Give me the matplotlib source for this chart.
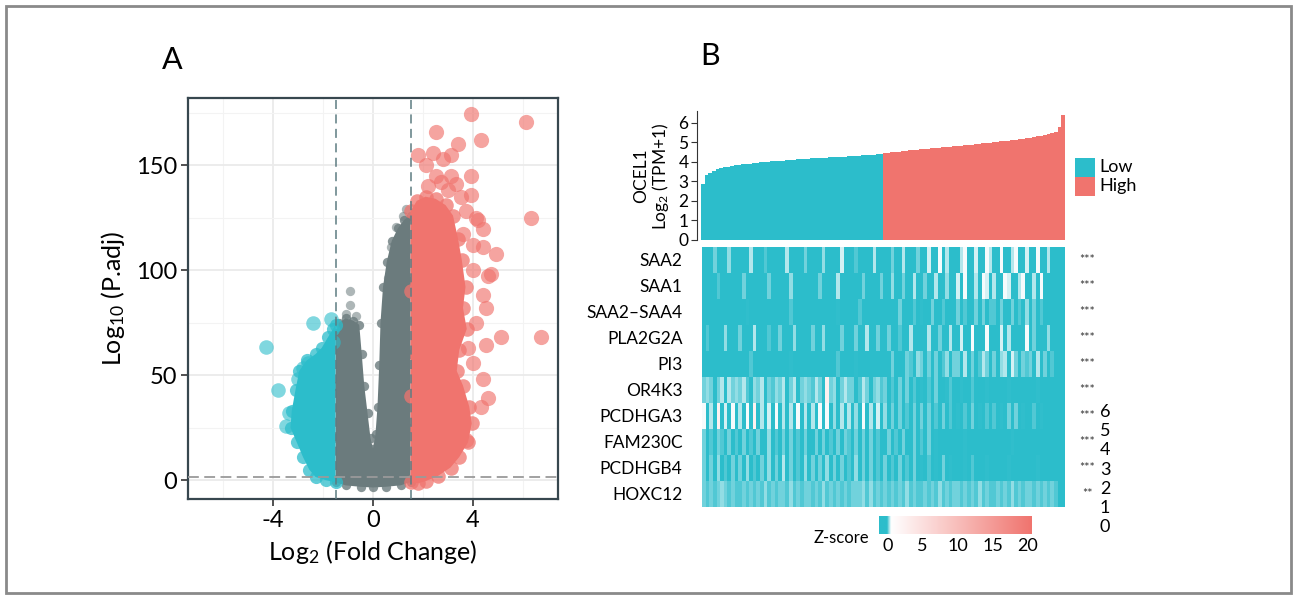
import numpy as np
import matplotlib
matplotlib.use("Agg")
import matplotlib.pyplot as plt
from matplotlib.colors import LinearSegmentedColormap, Normalize
from matplotlib.patches import Rectangle

plt.rcParams["font.family"] = ["Lato", "DejaVu Sans"]
plt.rcParams["mathtext.fontset"] = "custom"
plt.rcParams["mathtext.rm"] = "Lato"
plt.rcParams["mathtext.default"] = "regular"

TEAL = "#2CBDCB"
SALMON = "#F0746E"
GRAY = "#6B7B7D"

# ---- panel A: volcano (dense cores as outlines, plus single points) ----
GRAY_CORE_X = [-1.5, -1.5, -1.5, -1.5, -1.35, -1.1, -0.8, -0.55, -0.45, -0.35, -0.22, -0.1, 0.0,
               0.1, 0.18, 0.25, 0.3, 0.4, 0.55, 0.75, 1.0, 1.25, 1.5, 1.5, 1.5, 1.5, 1.5,
               1.1, 0.5, 0.0, -0.5, -1.1]
GRAY_CORE_Y = [-1, 20, 45, 70, 75, 77, 76, 74, 60, 45, 32, 20, 15,
               22, 35, 55, 75, 92, 104, 114, 120, 124, 126, 95, 60, 25, -1,
               -2.5, -3.2, -3.5, -3.2, -2.5]
BLUE_CORE_X = [-1.5, -1.9, -2.3, -2.55, -2.8, -3.05, -3.3, -3.25, -3.1, -2.95, -2.65, -2.3,
               -2.05, -1.8, -1.6, -1.5]
BLUE_CORE_Y = [-1, 0, 1.5, 5, 11, 18, 25, 33, 43, 52, 57, 60, 63, 68, 72, 74]
RED_CORE_X = [1.5, 1.5, 1.5, 1.5, 1.75, 2.1, 2.5, 2.9, 3.2, 3.4, 3.55, 3.7, 3.6, 3.75, 3.45,
              3.35, 3.6, 3.85, 3.95, 3.8, 3.45, 3.1, 2.6, 2.1, 1.8]
RED_CORE_Y = [-1, 40, 90, 128, 133, 135, 134, 131, 126, 115, 105, 92, 82, 72, 62,
              52, 45, 35, 27, 18, 11, 6, 2, -0.5, -1.5]

GRAY_PTS_X = [-0.92, -0.92, 1.2, 0.9, 0.7, 0.8, 0.6, 1.1, -1.1, -0.7, 1.3]
GRAY_PTS_Y = [90, 83.6, 126, 120.5, 111, 103, 96.5, 115.6, 79, 78, 129]
BLUE_PTS_X = [-4.3, -3.8, -2.4, -1.7, -2.8, -3.5, -3.35, -2.6, -3.0, -1.6]
BLUE_PTS_Y = [63.5, 43, 75, 76.5, 53.5, 26, 32, 56, 48, 66]
RED_PTS_X = [3.9, 6.1, 2.5, 4.3, 3.4, 1.8, 2.4, 3.1, 2.8, 2.1, 3.9, 3.3, 2.5, 3.1, 6.3, 2.7,
             4.1, 4.4, 4.9, 4.7, 4.0, 3.6, 3.9, 3.5, 4.2, 4.6, 4.4, 5.1, 6.7, 4.5, 4.6, 4.3,
             4.4, 4.0, 3.8, 4.1, 4.5, 3.7, 4.4, 4.0, 3.7, 2.2, 3.0]
RED_PTS_Y = [174.4, 170.6, 165.8, 162, 160, 155, 156, 155, 153, 150, 145, 141, 145, 145, 124.7, 142,
             125, 119.5, 107.5, 98, 112, 117, 136, 135, 124, 97, 111, 68, 68, 64.5, 39, 35,
             48, 56, 63, 75, 82, 19, 88, 100, 128, 140, 138]

# ---- panel B: sorted OCEL1 expression, 50 low + 50 high samples ----
BAR_VALUES = [2.85, 3.30, 3.45, 3.55, 3.62, 3.68, 3.72, 3.76, 3.79, 3.82,
              3.85, 3.87, 3.89, 3.91, 3.93, 3.95, 3.97, 3.99, 4.00, 4.02,
              4.03, 4.05, 4.06, 4.08, 4.09, 4.10, 4.12, 4.13, 4.14, 4.15,
              4.17, 4.18, 4.19, 4.20, 4.21, 4.23, 4.24, 4.25, 4.26, 4.27,
              4.28, 4.30, 4.31, 4.32, 4.33, 4.35, 4.36, 4.37, 4.39, 4.40,
              4.44, 4.46, 4.48, 4.50, 4.52, 4.54, 4.56, 4.58, 4.60, 4.62,
              4.64, 4.66, 4.68, 4.70, 4.72, 4.73, 4.75, 4.77, 4.78, 4.80,
              4.82, 4.83, 4.85, 4.87, 4.88, 4.90, 4.92, 4.94, 4.96, 4.98,
              5.00, 5.02, 5.04, 5.06, 5.08, 5.10, 5.12, 5.15, 5.18, 5.21,
              5.24, 5.27, 5.30, 5.33, 5.36, 5.40, 5.45, 5.52, 5.80, 6.40]
N_LOW = 50

GENES = ["SAA2", "SAA1", "SAA2\u2013SAA4", "PLA2G2A", "PI3", "OR4K3", "PCDHGA3", "FAM230C",
         "PCDHGB4", "HOXC12"]
STARS = ["***", "***", "***", "***", "***", "***", "***", "***", "***", "**"]

# one char per sample: 0 = low z (teal) ... 9 = white, a = pinkish
HEAT_ROWS = [
    "0003000500 0007000200 0006000030 0005000080 0020000600 0030070004 0080090600 0790080097 0090069008 0090070000",
    "0000200000 0300000040 0000500000 0030000600 0000400003 0050030060 0400700500 8090060980 7009800690 0709000000",
    "0000000000 0010000000 0000200000 0000000100 0002000000 0000300020 1003002000 3020040302 2030040205 0302000000",
    "0200005000 3000600020 0400050000 3005000040 0030070040 0400200600 0060030070 0800900090 0080700009 0300050000",
    "0000000000 0002000000 0000100000 0000000200 0010000000 0030004205 3040302503 4060302640 3057083042 4060302000",
    "3530460735 4620537042 5370460453 2640a35036 4302730452 3020403020 1020300120 0100200010 0000100000 0010000000",
    "9070a08090 7090a06080 9070609070 6090905070 7050906080 5030402040 3040203020 1020301020 2010303010 0201000000",
    "3020420302 0402030050 2030402030 0403020403 2030403020 0302030040 2030100000 0010000000 0000010000 0000000000",
    "4030502040 3050203050 4060402050 3040503040 2050304020 3020402030 1020103010 0010200010 0000100000 0010000000",
    "3242353242 2324242523 2342523243 2425242324 2343525242 3242425232 2423252423 3242325242 2423252324 3242324200",
]
Z_LEVELS = {"0": -1.0, "1": -0.03, "2": 0.03, "3": 0.09, "4": 0.15, "5": 0.21,
            "6": 0.27, "7": 0.33, "8": 0.39, "9": 0.45, "a": 2.5}

CBAR_TICKS = [0, 5, 10, 15, 20]
SIDE_NUMS = ["6", "5", "4", "3", "2", "1", "0"]

W, H = 1294, 599


def box(l, t, r, b):
    return [l / W, 1 - b / H, (r - l) / W, (b - t) / H]


fig = plt.figure(figsize=(W / 100, H / 100), dpi=100)

# ---------------- A ----------------
ax = fig.add_axes(box(188, 98, 558, 499))
ax.set_xlim(-7.4, 7.4)
ax.set_ylim(-9, 182)
ax.set_axisbelow(True)
ax.set_xticks([-4, 0, 4])
ax.set_xticklabels(["-4", "0", "4"])
ax.set_xticks([-6, -2, 2, 6], minor=True)
ax.set_yticks([0, 50, 100, 150])
ax.set_yticks([25, 75, 125, 175], minor=True)
ax.grid(which="major", color="#EBEBEB", lw=1.3)
ax.grid(which="minor", color="#F3F3F3", lw=0.8)
ax.tick_params(which="minor", length=0)
ax.tick_params(which="major", length=5, width=1.2, color="#333333", labelsize=17, pad=3)
for sp in ax.spines.values():
    sp.set_color("#37474F")
    sp.set_linewidth(1.6)

ax.fill(GRAY_CORE_X, GRAY_CORE_Y, color=GRAY, lw=0, zorder=2)
ax.scatter(GRAY_CORE_X, GRAY_CORE_Y, s=45, color=GRAY, alpha=0.8, lw=0, zorder=2)
ax.scatter(GRAY_PTS_X, GRAY_PTS_Y, s=45, color=GRAY, alpha=0.55, lw=0, zorder=2)
ax.fill(BLUE_CORE_X, BLUE_CORE_Y, color=TEAL, lw=0, zorder=3)
ax.scatter(BLUE_CORE_X, BLUE_CORE_Y, s=90, color=TEAL, alpha=0.75, lw=0, zorder=3)
ax.scatter(BLUE_PTS_X, BLUE_PTS_Y, s=110, color=TEAL, alpha=0.6, lw=0, zorder=3)
ax.fill(RED_CORE_X, RED_CORE_Y, color=SALMON, lw=0, zorder=4)
ax.scatter(RED_CORE_X, RED_CORE_Y, s=110, color=SALMON, alpha=0.75, lw=0, zorder=4)
ax.scatter(RED_PTS_X, RED_PTS_Y, s=120, color=SALMON, alpha=0.65, lw=0, zorder=4)

for xv in (-1.5, 1.5):
    ax.axvline(xv, color="#5E7C82", ls=(0, (5, 3)), lw=1.3, alpha=0.85, zorder=5)
ax.axhline(1.3, color="#9A9A9A", ls=(0, (6, 3)), lw=1.3, zorder=5)

ax.set_xlabel("Log$_2$ (Fold Change)", fontsize=18, labelpad=5)
ax.set_ylabel("Log$_{10}$ (P.adj)", fontsize=18, labelpad=6)

fig.text(172 / W, 1 - 60 / H, "A", fontsize=22, ha="center", va="center")
fig.text(710 / W, 1 - 56 / H, "B", fontsize=22, ha="center", va="center")

# ---------------- B: bars ----------------
ax2 = fig.add_axes(box(701, 111, 1065, 240))
n = len(BAR_VALUES)
bar_colors = [TEAL if i < N_LOW else SALMON for i in range(n)]
ax2.bar(range(n), BAR_VALUES, width=1.0, color=bar_colors, lw=0)
ax2.set_xlim(-0.5, n - 0.5)
ax2.set_ylim(0, 6.6)
ax2.set_yticks(range(7))
ax2.set_xticks([])
for side in ("top", "right", "bottom"):
    ax2.spines[side].set_visible(False)
ax2.spines["left"].set_color("#333333")
ax2.spines["left"].set_position(("outward", 3))
ax2.tick_params(axis="y", length=4, labelsize=12.5, pad=2, color="#333333")
fig.text(652 / W, 1 - 176 / H, "OCEL1\nLog$_2$ (TPM+1)", rotation=90, fontsize=12.5,
         ha="center", va="center", linespacing=1.1)

# legend
fig.add_artist(Rectangle((1075 / W, 1 - 177 / H), 20 / W, 19 / H, transform=fig.transFigure,
                         color=TEAL, lw=0))
fig.add_artist(Rectangle((1075 / W, 1 - 196 / H), 20 / W, 19 / H, transform=fig.transFigure,
                         color=SALMON, lw=0))
fig.text(1099 / W, 1 - 167 / H, "Low", fontsize=13, va="center")
fig.text(1099 / W, 1 - 186 / H, "High", fontsize=13, va="center")

# ---------------- B: heatmap ----------------
cmap = LinearSegmentedColormap.from_list(
    "zs", [(0.0, TEAL), (1.1 / 21.8, TEAL), (1.65 / 21.8, "#FFFFFF"), (1.0, SALMON)])
norm = Normalize(vmin=-1.2, vmax=20.6)

Z = np.array([[Z_LEVELS[c] for c in row.replace(" ", "")] for row in HEAT_ROWS])
ax3 = fig.add_axes(box(702, 247, 1064, 507))
ax3.imshow(Z, cmap=cmap, norm=norm, aspect="auto", interpolation="nearest")
ax3.set_yticks(range(len(GENES)))
ax3.set_yticklabels(GENES, fontsize=12.5)
ax3.set_xticks([])
ax3.tick_params(axis="y", length=0, pad=14)
for sp in ax3.spines.values():
    sp.set_visible(False)
for i, s in enumerate(STARS):
    ax3.text((1087 - 702) / 362, 1 - (i + 0.5) / len(GENES), s, transform=ax3.transAxes,
             ha="center", va="center", fontsize=9, color="#333333")

for i, t in enumerate(SIDE_NUMS):
    fig.text(1105 / W, 1 - (412 + i * 19.2) / H, t, fontsize=13, ha="center", va="center")

# colour key
ax4 = fig.add_axes(box(879, 516, 1032, 534))
grad = np.linspace(-1.2, 20.6, 400)[None, :]
ax4.imshow(grad, extent=[-1.2, 20.6, 0, 1], aspect="auto", cmap=cmap, norm=norm)
ax4.set_xticks(CBAR_TICKS)
ax4.set_yticks([])
ax4.tick_params(axis="x", length=0, labelsize=13, pad=3)
for sp in ax4.spines.values():
    sp.set_visible(False)
fig.text(841 / W, 1 - 538 / H, "Z-score", fontsize=12, ha="center", va="center")

fig.add_artist(Rectangle((6 / W, 6 / H), 1285 / W, 587 / H, transform=fig.transFigure,
                         fill=False, ec="#8A8A8A", lw=2))

fig.savefig("out.png", dpi=100)
